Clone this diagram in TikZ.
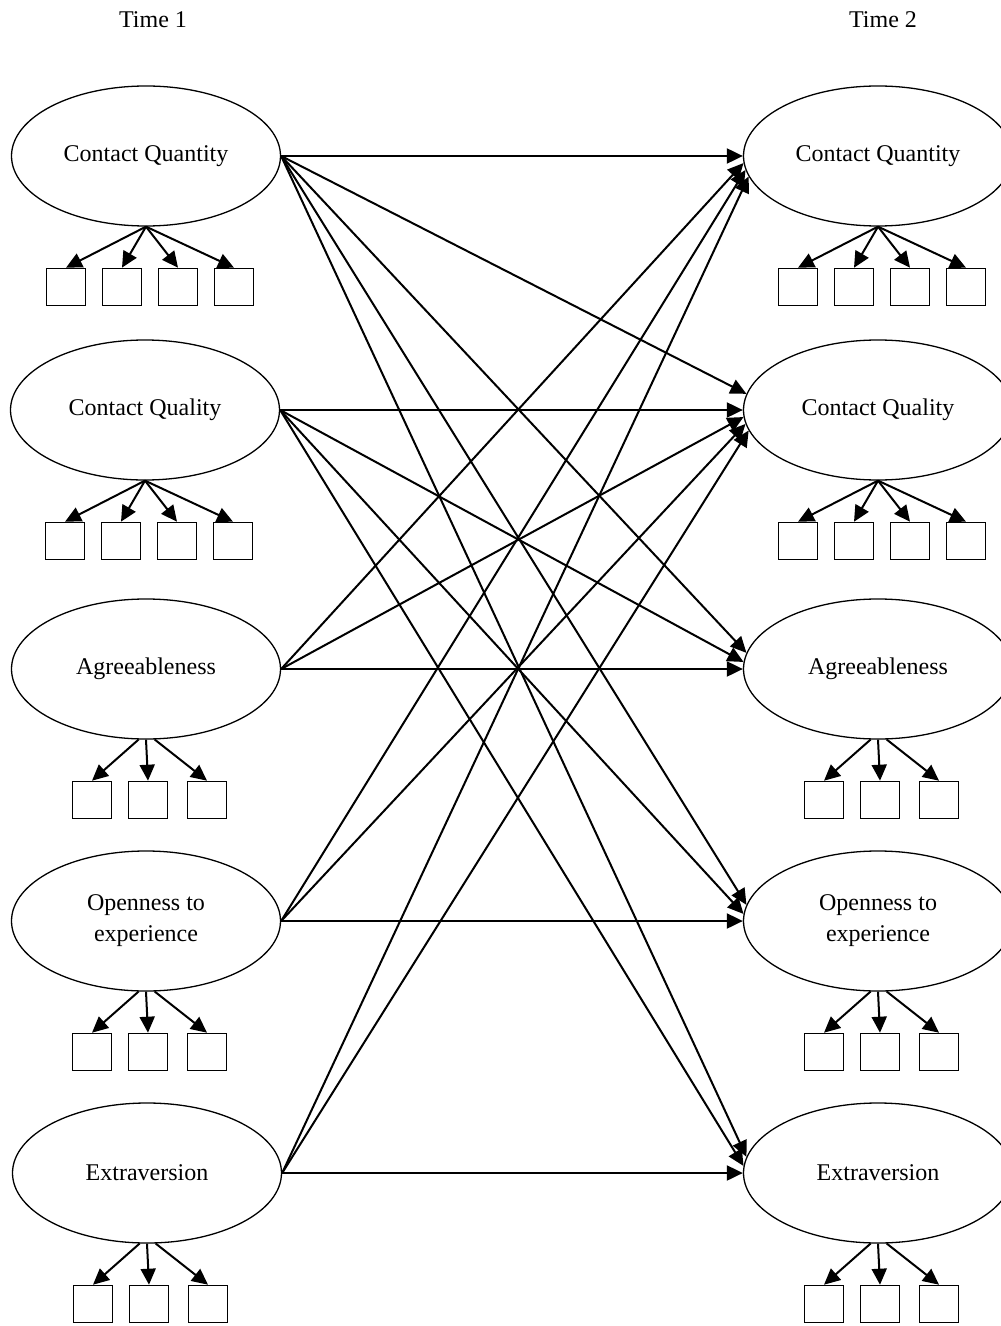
\documentclass[tikz,border=0pt]{standalone}
\usepackage{fontspec}
\setmainfont{Liberation Serif}
\usetikzlibrary{shapes.geometric,arrows.meta,calc}
\begin{document}
\begin{tikzpicture}[x=0.5pt,y=-0.5pt,
  latent/.style={ellipse,draw,line width=0.65pt,minimum width=134.5pt,minimum height=70pt,inner sep=0pt,align=center,font=\fontsize{12}{15.5}\selectfont},
  ind/.style={rectangle,draw,line width=0.8pt,minimum width=19.5pt,minimum height=18.5pt,inner sep=0pt},
  reg/.style={line width=1pt,-{Triangle[length=8pt,width=7.5pt]}},
  loadarr/.style={line width=1pt,-{Triangle[length=8pt,width=7.5pt]}},
  lbl/.style={font=\fontsize{12}{14}\selectfont}]
\useasboundingbox (0,0) rectangle (1000,1326);

\node[lbl] (t1) at (153,20) {Time 1};
\node[lbl] (t2) at (883,20) {Time 2};

% Time 1 latents
\node[latent] (cq1) at (146,156) {Contact Quantity};
\node[latent] (q1)  at (145,410) {Contact Quality};
\node[latent] (a1)  at (146,669) {Agreeableness};
\node[latent] (o1)  at (146,921) {Openness to\\experience};
\node[latent] (e1)  at (147,1173) {Extraversion};

% Time 2 latents
\node[latent] (cq2) at (878,156) {Contact Quantity};
\node[latent] (q2)  at (878,410) {Contact Quality};
\node[latent] (a2)  at (878,669) {Agreeableness};
\node[latent] (o2)  at (878,921) {Openness to\\experience};
\node[latent] (e2)  at (878,1173) {Extraversion};

% four-indicator measurement models
\foreach \lv in {cq1,q1,cq2,q2}{
  \foreach \n/\dx in {1/-80,2/-24,3/32,4/88}{
    \node[ind] (\lv i\n) at ($(\lv.center)+(\dx,131)$) {};
    \draw[loadarr] (\lv.south) -- (\lv i\n.north);
  }
}
% three-indicator measurement models
\foreach \lv in {a1,o1,e1,a2,o2,e2}{
  \foreach \n/\dx in {1/-54,2/2,3/61}{
    \node[ind] (\lv i\n) at ($(\lv.center)+(\dx,131)$) {};
  }
  \draw[loadarr] (\lv.264) -- (\lv i1.north);
  \draw[loadarr] (\lv.south) -- (\lv i2.north);
  \draw[loadarr] (\lv.277) -- (\lv i3.north);
}

% structural paths
\draw[reg] (cq1.east) -- (cq2.west);
\draw[reg] (cq1.east) -- (q2.173);
\draw[reg] (cq1.east) -- (a2.173);
\draw[reg] (cq1.east) -- (o2.173);
\draw[reg] (cq1.east) -- (e2.173);

\draw[reg] (q1.east) -- (q2.west);
\draw[reg] (q1.east) -- (a2.177);
\draw[reg] (q1.east) -- (o2.177);
\draw[reg] (q1.east) -- (e2.177);

\draw[reg] (a1.east) -- (cq2.183);
\draw[reg] (a1.east) -- (q2.183);
\draw[reg] (a1.east) -- (a2.west);

\draw[reg] (o1.east) -- (cq2.186);
\draw[reg] (o1.east) -- (q2.186);
\draw[reg] (o1.east) -- (o2.west);

\draw[reg] (e1.east) -- (cq2.189);
\draw[reg] (e1.east) -- (q2.189);
\draw[reg] (e1.east) -- (e2.west);
\end{tikzpicture}
\end{document}
